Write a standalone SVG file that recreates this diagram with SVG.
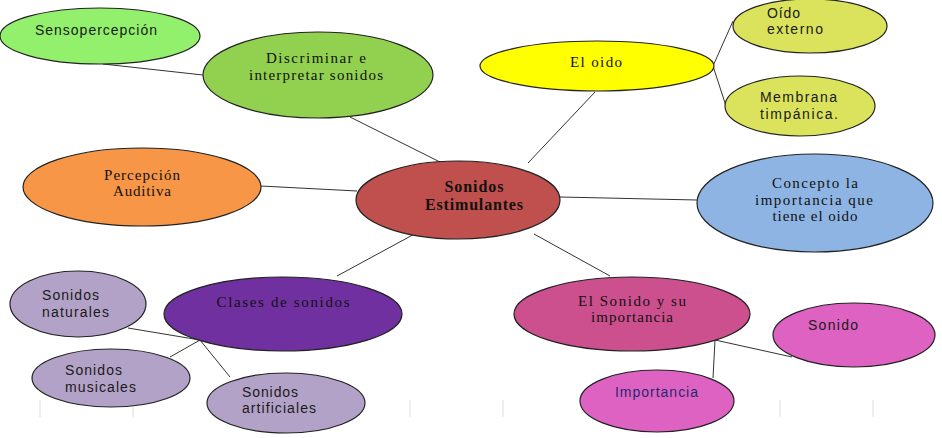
<svg xmlns="http://www.w3.org/2000/svg" width="942" height="438" viewBox="0 0 942 438">
<style>
.n{stroke:#222;stroke-width:1.2}
.s{font-family:"Liberation Sans",Arial,sans-serif;font-size:14px;fill:#1a1a1a}
.r{font-family:"Liberation Serif","Times New Roman",serif;font-size:15px;fill:#111;text-anchor:middle}
.b{font-weight:bold;font-size:16px}
.c line{stroke:#333;stroke-width:1}
.g line{stroke:#ddd;stroke-width:1}
</style>
<rect width="942" height="438" fill="#fff"/>
<g class="g">
<line x1="40" y1="400" x2="40" y2="417"/><line x1="133" y1="400" x2="133" y2="417"/><line x1="410" y1="400" x2="410" y2="417"/><line x1="503" y1="400" x2="503" y2="417"/><line x1="780" y1="400" x2="780" y2="417"/><line x1="873" y1="400" x2="873" y2="417"/>
</g>
<g id="connectors" class="c">
<line x1="103" y1="64" x2="203" y2="75"/>
<line x1="350" y1="117" x2="440" y2="162"/>
<line x1="595" y1="92" x2="528" y2="163"/>
<line x1="713" y1="66" x2="733" y2="21"/>
<line x1="713" y1="66" x2="726" y2="106"/>
<line x1="261" y1="186" x2="357" y2="191"/>
<line x1="560" y1="197" x2="697" y2="200"/>
<line x1="420" y1="231" x2="337" y2="276"/>
<line x1="534" y1="234" x2="610" y2="276"/>
<line x1="200" y1="340" x2="128" y2="328"/>
<line x1="200" y1="340" x2="170" y2="357"/>
<line x1="200" y1="340" x2="230" y2="377"/>
<line x1="715" y1="340" x2="792" y2="357"/>
<line x1="715" y1="340" x2="713" y2="378"/>
</g>
<g id="sensopercepcion"><ellipse class="n" cx="100" cy="36" rx="100" ry="28" fill="#92f06c"/><text class="s" x="35" y="35" textLength="122" lengthAdjust="spacing">Sensopercepción</text></g>
<g id="discriminar"><ellipse class="n" cx="318" cy="75" rx="115" ry="43" fill="#92d050"/><text class="r" x="316" y="63" textLength="100" lengthAdjust="spacing">Discriminar e</text><text class="r" x="316" y="80" textLength="134" lengthAdjust="spacing">interpretar sonidos</text></g>
<g id="eloido"><ellipse class="n" cx="597" cy="66" rx="117" ry="25" fill="#ffff00"/><text class="r" x="596" y="67" textLength="52" lengthAdjust="spacing">El oido</text></g>
<g id="oidoexterno"><ellipse class="n" cx="810" cy="26" rx="77" ry="27" fill="#dbe35c"/><text class="s" x="767" y="18" textLength="33" lengthAdjust="spacing">Oído</text><text class="s" x="767" y="34" textLength="56" lengthAdjust="spacing">externo</text></g>
<g id="membrana"><ellipse class="n" cx="800" cy="106" rx="75" ry="30" fill="#dbe35c"/><text class="s" x="760" y="102" textLength="77" lengthAdjust="spacing">Membrana</text><text class="s" x="760" y="119" textLength="78" lengthAdjust="spacing">timpánica.</text></g>
<g id="percepcion"><ellipse class="n" cx="142" cy="187" rx="119" ry="39" fill="#f79646"/><text class="r" x="142" y="180" textLength="76" lengthAdjust="spacing">Percepción</text><text class="r" x="142" y="196" textLength="58" lengthAdjust="spacing">Auditiva</text></g>
<g id="sonidosestimulantes"><ellipse class="n" cx="458" cy="200" rx="102" ry="39" fill="#c0504d"/><text class="r b" x="474" y="192" textLength="59" lengthAdjust="spacing">Sonidos</text><text class="r b" x="474" y="210" textLength="98" lengthAdjust="spacing">Estimulantes</text></g>
<g id="concepto"><ellipse class="n" cx="815" cy="203" rx="118" ry="49" fill="#8db4e2"/><text class="r" x="815" y="188" textLength="86" lengthAdjust="spacing">Concepto la</text><text class="r" x="814" y="205" textLength="118" lengthAdjust="spacing">importancia que</text><text class="r" x="815" y="221" textLength="85" lengthAdjust="spacing">tiene el oido</text></g>
<g id="clases"><ellipse class="n" cx="283" cy="314" rx="119" ry="37" fill="#7030a0"/><text class="r" x="283" y="307" textLength="133" lengthAdjust="spacing">Clases de sonidos</text></g>
<g id="naturales"><ellipse class="n" cx="78" cy="304" rx="68" ry="33" fill="#b3a2c7"/><text class="s" x="42" y="300" textLength="57" lengthAdjust="spacing">Sonidos</text><text class="s" x="42" y="317" textLength="67" lengthAdjust="spacing">naturales</text></g>
<g id="musicales"><ellipse class="n" cx="111" cy="378" rx="79" ry="29" fill="#b3a2c7"/><text class="s" x="65" y="375" textLength="57" lengthAdjust="spacing">Sonidos</text><text class="s" x="65" y="392" textLength="71" lengthAdjust="spacing">musicales</text></g>
<g id="artificiales"><ellipse class="n" cx="286" cy="403" rx="79" ry="30" fill="#b3a2c7"/><text class="s" x="242" y="397" textLength="56" lengthAdjust="spacing">Sonidos</text><text class="s" x="242" y="413" textLength="74" lengthAdjust="spacing">artificiales</text></g>
<g id="elsonido"><ellipse class="n" cx="632" cy="314" rx="118" ry="37" fill="#cc4f8e"/><text class="r" x="632" y="306" textLength="108" lengthAdjust="spacing">El Sonido y su</text><text class="r" x="632" y="322" textLength="82" lengthAdjust="spacing">importancia</text></g>
<g id="sonido"><ellipse class="n" cx="854" cy="335" rx="81" ry="32" fill="#de62c2"/><text class="s" x="808" y="330" textLength="50" lengthAdjust="spacing">Sonido</text></g>
<g id="importancia"><ellipse class="n" cx="657" cy="401" rx="77" ry="31" fill="#de62c2"/><text class="s" x="615" y="397" textLength="83" lengthAdjust="spacing" style="fill:#1f2a6e">Importancia</text></g>
</svg>
